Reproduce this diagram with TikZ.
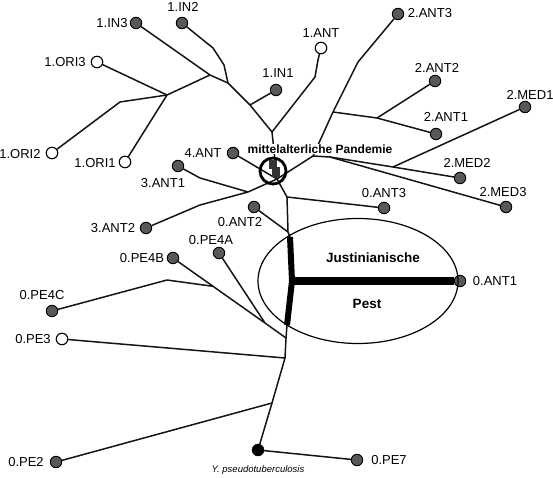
\documentclass[tikz,border=0pt]{standalone}
\usepackage{fontspec}
\setmainfont{Liberation Sans}
\usetikzlibrary{shapes.geometric}
\definecolor{nodegray}{RGB}{88,88,88}
\definecolor{edgeblack}{RGB}{20,20,20}
\tikzset{
  edge/.style={line width=1.5pt, draw=edgeblack, line join=round},
  gnode/.style={circle, draw=black, line width=0.9pt, fill=nodegray, minimum size=11.5pt, inner sep=0pt},
  wnode/.style={circle, draw=black, line width=1.1pt, fill=white, minimum size=11.5pt, inner sep=0pt},
  bnode/.style={circle, draw=black, fill=black, minimum size=12pt, inner sep=0pt},
  lbl/.style={font=\fontsize{13}{15}\selectfont, inner sep=0pt},
  blbl/.style={font=\fontsize{13.5}{16}\selectfont\bfseries, inner sep=0pt},
  sq/.style={fill=black!80, draw=black!80, minimum width=7.5pt, minimum height=8.5pt, inner sep=0pt},
}
\begin{document}
\begin{tikzpicture}[x=1pt,y=-1pt]
\useasboundingbox (0,0) rectangle (553,478);
% ---- leaf nodes ----
\node[gnode] (in3) at (136,23) {};
\node[gnode] (in2) at (182,23) {};
\node[wnode] (ori3) at (97,62) {};
\node[wnode] (ori2) at (52,153) {};
\node[wnode] (ori1) at (125,162) {};
\node[gnode] (in1) at (276,90) {};
\node[wnode] (ant1x) at (321,48) {};
\node[gnode] (ant23) at (398,14) {};
\node[gnode] (ant22) at (435,81) {};
\node[gnode] (ant21) at (436,134) {};
\node[gnode] (med1) at (525,107) {};
\node[gnode] (med2) at (460,178) {};
\node[gnode] (med3) at (506,207) {};
\node[gnode] (ant03) at (384,208) {};
\node[gnode] (ant4) at (233,153) {};
\node[gnode] (ant31) at (178,166) {};
\node[gnode] (ant32) at (146,228) {};
\node[gnode] (ant02) at (254,207) {};
\node[gnode] (pe4a) at (219,253) {};
\node[gnode] (pe4b) at (173,258) {};
\node[gnode] (pe4c) at (52,311) {};
\node[wnode] (pe3) at (62,339) {};
\node[gnode] (ant01) at (460,281) {};
\node[gnode] (pe2) at (56,462) {};
\node[gnode] (pe7) at (357,460) {};
\node[bnode] (ypt) at (258,450) {};
% ---- junctions ----
\coordinate (jIN3) at (210,75);
\coordinate (jIN2) at (228,83);
\coordinate (jIN1) at (250,105);
\coordinate (jTop) at (272,132);
\coordinate (jORI) at (167,95);
\coordinate (bORI2) at (120,102);
\coordinate (bIN2a) at (213,48);
\coordinate (bIN2b) at (224,65);
\coordinate (bANTa) at (318,60);
\coordinate (bANTb) at (315,77);
\coordinate (M) at (277,179);
\coordinate (j2ANT) at (333,112);
\coordinate (b2ANT3) at (358,62);
\coordinate (j2ANT2) at (377,118);
\coordinate (J2) at (313,156);
\coordinate (J3) at (330,157);
\coordinate (jMED1) at (393,167);
\coordinate (jANT3) at (287,197);
\coordinate (jANT2) at (288,232);
\coordinate (jThTop) at (290,237);
\coordinate (jJust) at (292,281);
\coordinate (jThBot) at (287,325);
\coordinate (jPE4B) at (286,338);
\coordinate (jPE3) at (285,358);
\coordinate (jPE2) at (272,403);
\coordinate (jPE4C) at (213,286.3);
\coordinate (jPE4A) at (265,323);
\coordinate (bPE4C) at (167,280);
\coordinate (j3ANT) at (248,192);
\coordinate (b3ANT1) at (200,178);
\coordinate (b3ANT2) at (200,205);
% ---- edges ----
\draw[edge] (in3) -- (jIN3) -- (jIN2) -- (jIN1) -- (jTop) -- (M);
\draw[edge] (in2) -- (bIN2a) -- (bIN2b) -- (jIN2);
\draw[edge] (in1) -- (jIN1);
\draw[edge] (ant1x) -- (bANTa) -- (bANTb) -- (jTop);
\draw[edge] (jIN3) -- (jORI) -- (ori3);
\draw[edge] (jORI) -- (ori1);
\draw[edge] (jORI) -- (bORI2) -- (ori2);
\draw[edge] (ant23) -- (b2ANT3) -- (j2ANT) -- (J2) -- (M);
\draw[edge] (j2ANT) -- (j2ANT2) -- (ant21);
\draw[edge] (j2ANT2) -- (ant22);
\draw[edge] (J2) -- (J3) -- (med3);
\draw[edge] (J3) -- (jMED1) -- (med2);
\draw[edge] (jMED1) -- (med1);
\draw[edge] (ant4) -- (M);
\draw[edge] (ant31) -- (b3ANT1) -- (j3ANT) -- (M);
\draw[edge] (ant32) -- (b3ANT2) -- (j3ANT);
\draw[edge] (M) -- (jANT3) -- (jANT2) -- (jThTop);
\draw[edge] (jANT3) -- (ant03);
\draw[edge] (ant02) -- (jANT2);
\draw[edge] (jThBot) -- (jPE4B) -- (jPE3) -- (jPE2) -- (ypt);
\draw[edge] (pe4b) -- (jPE4C) -- (jPE4A) -- (jPE4B);
\draw[edge] (pe4a) -- (jPE4A);
\draw[edge] (pe4c) -- (bPE4C) -- (jPE4C);
\draw[edge] (pe3) -- (jPE3);
\draw[edge] (pe2) -- (jPE2);
\draw[edge] (ypt) -- (pe7);
% ---- Justinian ellipse ----
\node[ellipse, draw=black, line width=1.2pt, minimum width=200pt, minimum height=125pt, inner sep=0pt] (just) at (358,281) {};
\draw[line width=6pt, line cap=butt] (jThTop) -- (jJust) -- (jThBot);
\draw[line width=8.5pt] (jJust) -- (ant01);
\node[blbl] (jt) at (373,258) {Justinianische};
\node[blbl] (pt) at (367,304) {Pest};
% ---- medieval pandemic ----
\node[font=\fontsize{12}{14}\selectfont\bfseries, fill=white, inner sep=1pt] (mp) at (320,149) {mittelalterliche Pandemie};
\node[sq] (sq1) at (272.5,164) {};
\node[sq] (sq2) at (275.5,171.5) {};
\node[circle, draw=black, line width=2.8pt, minimum size=26pt, inner sep=0pt] (mc) at (273,171) {};
% ---- labels ----
\node[lbl] (l1) at (112,23) {1.IN3};
\node[lbl] (l2) at (183,7) {1.IN2};
\node[lbl] (l3) at (65,62) {1.ORI3};
\node[lbl] (l4) at (20,154) {1.ORI2};
\node[lbl] (l5) at (95,163) {1.ORI1};
\node[lbl] (l6) at (278,73) {1.IN1};
\node[lbl] (l7) at (321,33) {1.ANT};
\node[lbl] (l8) at (430,13) {2.ANT3};
\node[lbl] (l9) at (437,68) {2.ANT2};
\node[lbl] (l10) at (446,117) {2.ANT1};
\node[lbl] (l11) at (530,95) {2.MED1};
\node[lbl] (l12) at (467,163) {2.MED2};
\node[lbl] (l13) at (503,192) {2.MED3};
\node[lbl] (l14) at (384,193) {0.ANT3};
\node[lbl] (l15) at (203,153) {4.ANT};
\node[lbl] (l16) at (163,183) {3.ANT1};
\node[lbl] (l17) at (113,228) {3.ANT2};
\node[lbl] (l18) at (240,222) {0.ANT2};
\node[lbl] (l19) at (211,240) {0.PE4A};
\node[lbl] (l20) at (142,258) {0.PE4B};
\node[lbl] (l21) at (42,295) {0.PE4C};
\node[lbl] (l22) at (33,339) {0.PE3};
\node[lbl] (l23) at (495,281) {0.ANT1};
\node[lbl] (l24) at (26,462) {0.PE2};
\node[lbl] (l25) at (389,460) {0.PE7};
\node[font=\fontsize{9.5}{11}\selectfont\itshape, inner sep=0pt] (l26) at (258,470) {Y. pseudotuberculosis};
\end{tikzpicture}
\end{document}
